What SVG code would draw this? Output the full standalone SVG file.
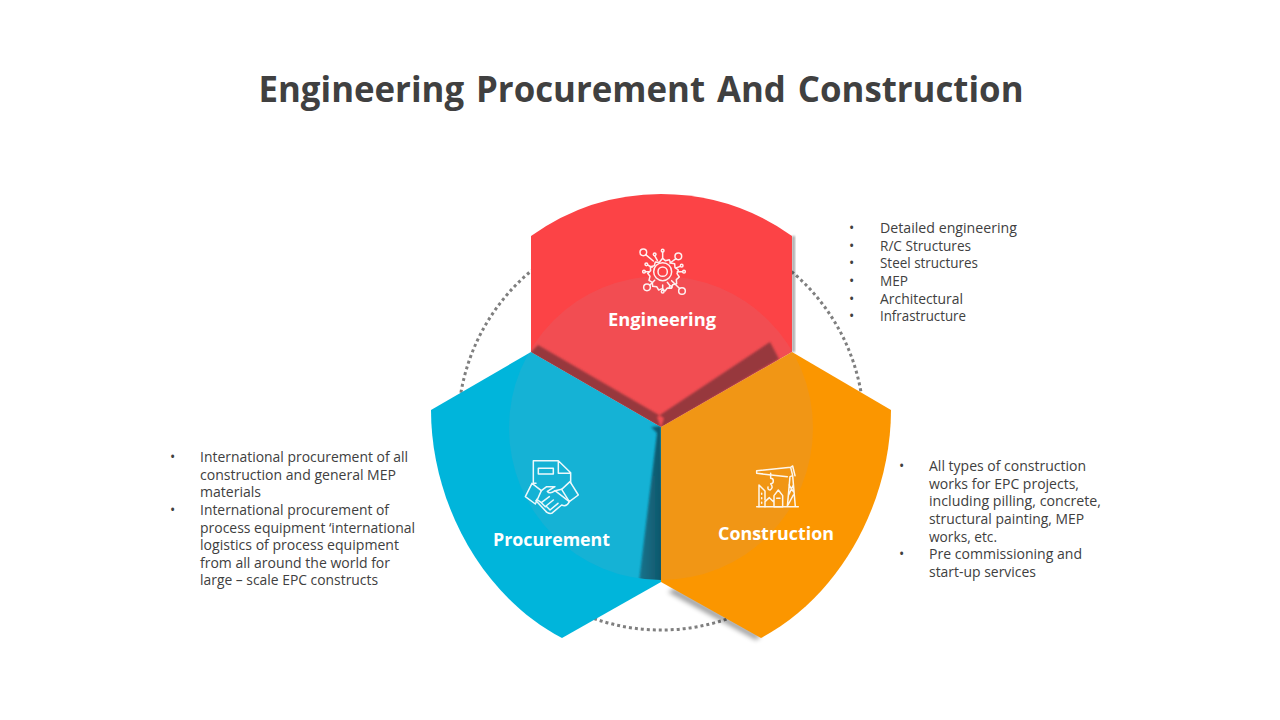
<svg xmlns="http://www.w3.org/2000/svg" width="1280" height="720" viewBox="0 0 1280 720">
<style>
text{font-family:"Open Sans","Noto Sans","Liberation Sans",sans-serif}
.title{font-size:36px;font-weight:700;fill:#404040;text-anchor:middle;word-spacing:3px}
.label{font-size:18px;font-weight:700;fill:#fff;text-anchor:middle}
.body{font-size:14px;fill:#404040}
.ic{fill:none;stroke:#fff;stroke-width:4.500;stroke-linecap:round;stroke-linejoin:round;opacity:.92}
</style>
<defs>
<filter id="bl" x="-20%" y="-20%" width="140%" height="140%"><feGaussianBlur stdDeviation="1"/></filter>
<filter id="bl2" x="-50%" y="-50%" width="200%" height="200%"><feGaussianBlur stdDeviation="2.500"/></filter>
<linearGradient id="gs" x1="0" x2="1" y1="0" y2="0"><stop offset="0" stop-color="#13768f"/><stop offset="1" stop-color="#115468"/></linearGradient>
<clipPath id="cr"><path d="M531 236Q590 194 661 194Q733 194 792 236V352L661 427L531 352Z"/></clipPath>
<clipPath id="cb"><path d="M661 427L531 352L431 410C431 500 480 595 562 638L661 582Z"/></clipPath>
<clipPath id="cc"><circle cx="661" cy="428" r="152"/></clipPath>
</defs>
<rect width="1280" height="720" fill="#fff"/>
<text class="title" x="641" y="102" textLength="765" lengthAdjust="spacingAndGlyphs">Engineering Procurement And Construction</text>
<g id="connectors"><circle cx="661" cy="427" r="203" fill="none" stroke="#7f7f7f" stroke-width="3" stroke-dasharray="3 3"/></g>
<path d="M792 236H795V352H792Z" fill="#000" opacity=".35" filter="url(#bl)"/>
<path d="M675 588L761 636L756 640L668 592Z" fill="#000" opacity=".38" filter="url(#bl2)"/>
<g id="engineering">
<path d="M531 236Q590 194 661 194Q733 194 792 236V352L661 427L531 352Z" fill="#fc4346"/>
</g>
<g id="construction">
<path d="M661 427L792 352L891 410C891 500 842 595 761 638L661 582Z" fill="#fb9600"/>
</g>
<g id="procurement">
<path d="M661 427L531 352L431 410C431 500 480 595 562 638L661 582Z" fill="#00b5db"/>
</g>
<circle cx="661" cy="428" r="152" fill="#b0a0b0" opacity=".12"/>
<g clip-path="url(#cr)"><path d="M538 345L530 353L661 428L664 418ZM770 342L779 359L661 428L657 417Z" fill="#97383e" filter="url(#bl)"/></g>
<g clip-path="url(#cc)"><g clip-path="url(#cb)"><path d="M657 433L651 427L661 426L663 590H638Z" fill="url(#gs)" filter="url(#bl)"/></g></g>
<g id="engineering-content">
<g transform="translate(620 235) scale(.3333)" class="ic">
<circle cx="128" cy="110" r="14"/><circle cx="128" cy="110" r="27"/>
<path d="M128 70l8 7 12-3 4 10 12 2 1 12 10 7-4 11 7 10-9 8 1 12-12 3-4 11-12-1-7 9-8-7-11 4-6-10-12-1-1-12-10-6 3-12-7-9 9-8-1-12 12-3 3-11 12 1z"/>
<circle cx="70" cy="52" r="10"/><circle cx="175" cy="64" r="10"/><circle cx="81" cy="157" r="10"/><circle cx="186" cy="168" r="10"/>
<circle cx="104" cy="58" r="4"/><circle cx="128" cy="47" r="4"/><circle cx="79" cy="88" r="4"/><circle cx="72" cy="110" r="4"/><circle cx="185" cy="92" r="4"/><circle cx="192" cy="110" r="4"/><circle cx="128" cy="170" r="4"/><circle cx="152" cy="156" r="4"/>
<path d="M77 59L100 78M168 71L150 84M90 150L104 136M178 160L155 137M104 62L112 76M128 51V70M83 90L96 97M76 110H88M181 94L168 99M188 110H172M128 166V150M150 152L142 142"/>
</g>
<text class="label" x="662" y="326" textLength="108" lengthAdjust="spacingAndGlyphs">Engineering</text>
</g>
<g id="procurement-content">
<g transform="translate(510 450) scale(.3333)" class="ic">
<path d="M78 100H70V32H145L182 68V98M145 32V70H182M85 55H130V72H85Z"/>
<path d="M66 100L46 140L76 162L94 122ZM180 95L205 135L178 155L155 118Z"/>
<path d="M94 122L110 110H135L112 124Q118 134 135 122L178 155Q170 172 155 165L125 190Q112 192 106 182L78 152"/>
<path d="M130 150L108 168M118 140L94 158M144 160L120 180M108 168L118 178M94 158L106 170M80 148L94 158M135 122L155 118"/>
</g>
<text class="label" x="551.500" y="546" textLength="117" lengthAdjust="spacingAndGlyphs">Procurement</text>
</g>
<g id="construction-content">
<g transform="translate(740 455) scale(.3333)" class="ic">
<path d="M50 155H175M142 155L150 65L158 62L166 155M142 65L50 55V47L152 37L158 33L165 62M152 37L158 62M147 90L160 110M160 90L146 120M160 120L144 150"/>
<path d="M92 55V70M92 70A8 8 0 1 1 92 86Q102 98 90 105Q82 104 84 96"/>
<path d="M57 155V90L75 108V135M65 115V118M65 128V131M65 142V145M75 118V121"/>
<path d="M75 155V140L88 128L102 142V155M102 155V122L115 105L128 122V155H102M110 130H120"/>
</g>
<text class="label" x="776" y="540" textLength="116" lengthAdjust="spacingAndGlyphs">Construction</text>
</g>
<g id="engineering-notes" class="body">
<text x="849" y="233">•</text><text x="880" y="233" textLength="137" lengthAdjust="spacingAndGlyphs">Detailed engineering</text>
<text x="849" y="251">•</text><text x="880" y="251" textLength="91" lengthAdjust="spacingAndGlyphs">R/C Structures</text>
<text x="849" y="268">•</text><text x="880" y="268" textLength="98" lengthAdjust="spacingAndGlyphs">Steel structures</text>
<text x="849" y="286">•</text><text x="880" y="286" textLength="28" lengthAdjust="spacingAndGlyphs">MEP</text>
<text x="849" y="304">•</text><text x="880" y="304" textLength="83" lengthAdjust="spacingAndGlyphs">Architectural</text>
<text x="849" y="321">•</text><text x="880" y="321" textLength="86" lengthAdjust="spacingAndGlyphs">Infrastructure</text>
</g>
<g id="procurement-notes" class="body">
<text x="170" y="462">•</text><text x="200" y="462" textLength="208" lengthAdjust="spacingAndGlyphs">International procurement of all</text>
<text x="200" y="480" textLength="196" lengthAdjust="spacingAndGlyphs">construction and general MEP</text>
<text x="200" y="497" textLength="61" lengthAdjust="spacingAndGlyphs">materials</text>
<text x="170" y="515">•</text><text x="200" y="515" textLength="189" lengthAdjust="spacingAndGlyphs">International procurement of</text>
<text x="200" y="533" textLength="215" lengthAdjust="spacingAndGlyphs">process equipment ‘international</text>
<text x="200" y="550" textLength="199" lengthAdjust="spacingAndGlyphs">logistics of process equipment</text>
<text x="200" y="568" textLength="190" lengthAdjust="spacingAndGlyphs">from all around the world for</text>
<text x="200" y="585" textLength="178" lengthAdjust="spacingAndGlyphs">large – scale EPC constructs</text>
</g>
<g id="construction-notes" class="body">
<text x="899" y="471">•</text><text x="929" y="471" textLength="157" lengthAdjust="spacingAndGlyphs">All types of construction</text>
<text x="929" y="489" textLength="150" lengthAdjust="spacingAndGlyphs">works for EPC projects,</text>
<text x="929" y="506" textLength="172" lengthAdjust="spacingAndGlyphs">including pilling, concrete,</text>
<text x="929" y="524" textLength="155" lengthAdjust="spacingAndGlyphs">structural painting, MEP</text>
<text x="929" y="542" textLength="68" lengthAdjust="spacingAndGlyphs">works, etc.</text>
<text x="899" y="559">•</text><text x="929" y="559" textLength="153" lengthAdjust="spacingAndGlyphs">Pre commissioning and</text>
<text x="929" y="577" textLength="107" lengthAdjust="spacingAndGlyphs">start-up services</text>
</g>
</svg>
